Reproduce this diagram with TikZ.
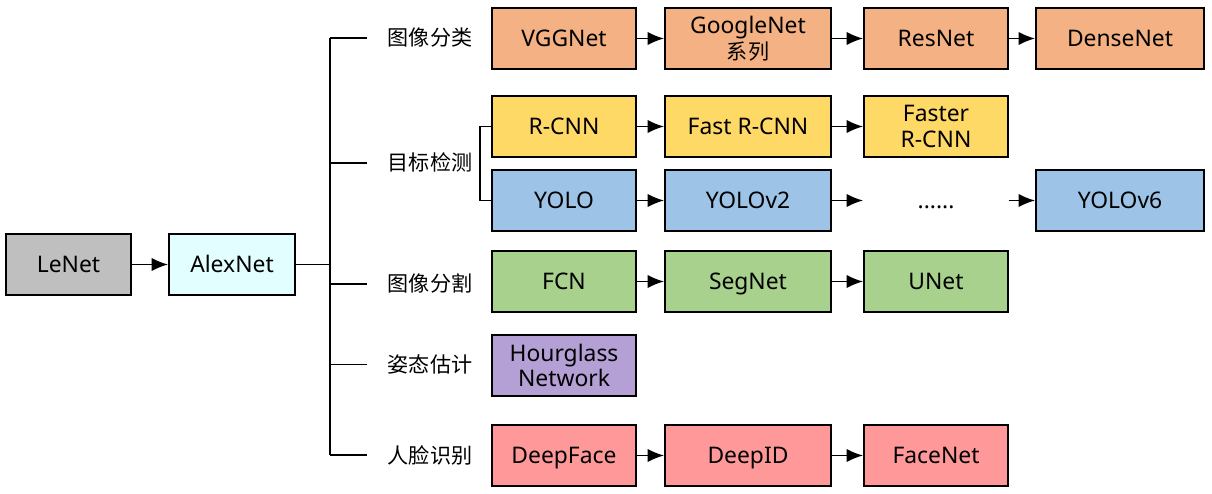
\documentclass[tikz,border=0pt]{standalone}
\usepackage{fontspec}
\setmainfont{Noto Sans}
\newfontfamily\cjk{Noto Sans CJK SC}
\usetikzlibrary{arrows.meta}

\definecolor{clsfill}{HTML}{F4B183}
\definecolor{detfill}{HTML}{FFD966}
\definecolor{yolofill}{HTML}{9DC3E6}
\definecolor{segfill}{HTML}{A9D18E}
\definecolor{posefill}{HTML}{B4A0D4}
\definecolor{facefill}{HTML}{FF9999}
\definecolor{lefill}{HTML}{BFBFBF}
\definecolor{alexfill}{HTML}{E2FEFF}

\tikzset{
  twoline/.style={draw=black, line width=1.1pt, minimum width=2.88cm, minimum height=1.22cm,
    inner sep=0pt, align=center, font=\fontsize{13}{14.6}\selectfont},
  netbox/.style={twoline, text height=2ex, text depth=0.37ex},
  widebox/.style={netbox, minimum width=3.32cm},
  tagtext/.style={inner xsep=0.4cm, inner ysep=0pt, text height=2.1ex, text depth=0.4ex,
    font=\fontsize{12}{14}\selectfont\cjk},
  nextarrow/.style={line width=1pt, -{Latex[length=3.3mm,width=2.7mm]}},
  branch/.style={line width=1pt}
}

\begin{document}
\begin{tikzpicture}
  \useasboundingbox (0,0) rectangle (24.24,9.88);

  % left part
  \node[netbox, minimum width=2.5cm, fill=lefill] (lenet) at (1.37,4.59) {LeNet};
  \node[netbox, minimum width=2.52cm, fill=alexfill] (alex) at (4.64,4.59) {AlexNet};
  \draw[nextarrow] (lenet) -- (alex);
  \coordinate (trunk) at (6.6,4.59);
  \draw[branch] (alex.east) -- (trunk);
  \draw[branch] (6.6,9.12) -- (6.6,0.77);

  % task labels
  \node[tagtext] (cls) at (8.6,9.12) {图像分类};
  \node[tagtext] (det) at (8.6,6.62) {目标检测};
  \node[tagtext] (seg) at (8.6,4.20) {图像分割};
  \node[tagtext] (pose) at (8.6,2.59) {姿态估计};
  \node[tagtext] (face) at (8.6,0.78) {人脸识别};
  \foreach \t in {cls,det,seg,pose,face}
    \draw[branch] (\t.west -| trunk) -- (\t.west);

  % image classification
  \node[netbox, fill=clsfill] (vgg) at (11.28,9.11) {VGGNet};
  \node[twoline, minimum width=3.32cm, fill=clsfill] (google) at (14.96,9.11) {GoogleNet\\{\cjk\fontsize{12}{14}\selectfont 系列}};
  \node[netbox, fill=clsfill] (res) at (18.72,9.11) {ResNet};
  \node[widebox, minimum width=3.36cm, fill=clsfill] (dense) at (22.4,9.11) {DenseNet};
  \draw[nextarrow] (vgg) -- (google);
  \draw[nextarrow] (google) -- (res);
  \draw[nextarrow] (res) -- (dense);

  % object detection
  \node[netbox, fill=detfill] (rcnn) at (11.28,7.35) {R-CNN};
  \node[widebox, fill=detfill] (fast) at (14.96,7.35) {Fast R-CNN};
  \node[twoline, fill=detfill] (faster) at (18.72,7.35) {Faster\\R-CNN};
  \draw[nextarrow] (rcnn) -- (fast);
  \draw[nextarrow] (fast) -- (faster);
  \node[netbox, fill=yolofill] (yolo) at (11.28,5.87) {YOLO};
  \node[widebox, fill=yolofill] (yolo2) at (14.96,5.87) {YOLOv2};
  \node[netbox, draw=none] (dots) at (18.72,5.87) {......};
  \node[widebox, minimum width=3.36cm, fill=yolofill] (yolo6) at (22.4,5.87) {YOLOv6};
  \draw[nextarrow] (yolo) -- (yolo2);
  \draw[nextarrow] (yolo2) -- (dots);
  \draw[nextarrow] (dots) -- (yolo6);
  \draw[branch] (rcnn.west) -- ++(-0.22,0) |- (yolo.west);

  % segmentation
  \node[netbox, fill=segfill] (fcn) at (11.28,4.25) {FCN};
  \node[widebox, fill=segfill] (segnet) at (14.96,4.25) {SegNet};
  \node[netbox, fill=segfill] (unet) at (18.72,4.25) {UNet};
  \draw[nextarrow] (fcn) -- (segnet);
  \draw[nextarrow] (segnet) -- (unet);

  % pose estimation
  \node[twoline, fill=posefill] (hourglass) at (11.28,2.57) {Hourglass\\Network};

  % face recognition
  \node[netbox, fill=facefill] (deepface) at (11.28,0.77) {DeepFace};
  \node[widebox, fill=facefill] (deepid) at (14.96,0.77) {DeepID};
  \node[netbox, fill=facefill] (facenet) at (18.72,0.77) {FaceNet};
  \draw[nextarrow] (deepface) -- (deepid);
  \draw[nextarrow] (deepid) -- (facenet);
\end{tikzpicture}
\end{document}
